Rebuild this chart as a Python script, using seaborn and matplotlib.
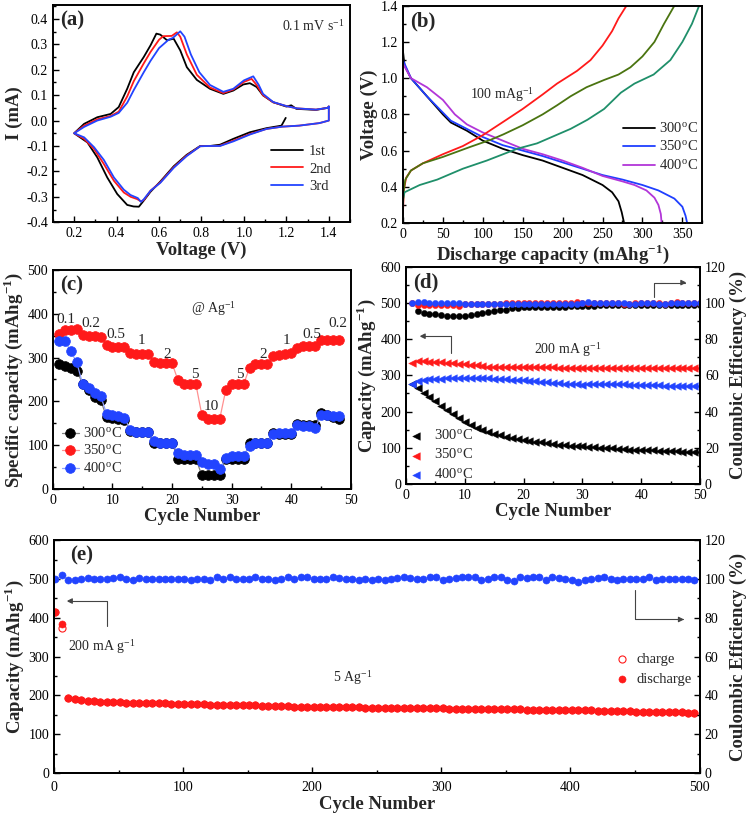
import numpy as np
import pandas as pd
import matplotlib
matplotlib.use("Agg")
import matplotlib.pyplot as plt
from matplotlib.ticker import MultipleLocator, FormatStrFormatter
import seaborn as sns

# ---------------- data ----------------
# (a) cyclic voltammetry (V, mA)
cv1_v = [1.197, 1.177, 1.106, 1.028, 0.95, 0.8875, 0.84, 0.794, 0.73, 0.669, 0.606, 0.56, 0.528, 0.505, 0.48, 0.45, 0.403, 0.356, 0.309, 0.2625, 0.2,
         0.247, 0.309, 0.372, 0.41, 0.45, 0.481, 0.528, 0.56, 0.5875, 0.606, 0.6375, 0.669, 0.7, 0.731, 0.778, 0.84, 0.903, 0.95, 0.997, 1.028, 1.06, 1.09, 1.1375, 1.2, 1.223, 1.247, 1.34, 1.395, 1.4]
cv1_i = [0.0105, -0.02, -0.03, -0.046, -0.072, -0.095, -0.1, -0.1, -0.135, -0.18, -0.24, -0.28, -0.315, -0.339, -0.338, -0.332, -0.289, -0.224, -0.145, -0.086, -0.05,
         -0.013, 0.013, 0.026, 0.053, 0.125, 0.19, 0.25, 0.296, 0.342, 0.338, 0.316, 0.322, 0.276, 0.21, 0.16, 0.125, 0.105, 0.118, 0.142, 0.147, 0.132, 0.099, 0.072, 0.055, 0.06, 0.046, 0.042, 0.05, 0.055]
cv2_v = [1.4, 1.4, 1.356, 1.26, 1.18, 1.106, 1.028, 0.95, 0.8875, 0.84, 0.794, 0.73, 0.669, 0.606, 0.56, 0.528, 0.515, 0.497, 0.466, 0.434, 0.3875, 0.34, 0.294, 0.247, 0.2,
         0.247, 0.309, 0.372, 0.41, 0.45, 0.481, 0.528, 0.56, 0.6, 0.62, 0.66, 0.684, 0.7, 0.731, 0.778, 0.84, 0.903, 0.95, 1.0, 1.036, 1.06, 1.09, 1.1375, 1.2, 1.25, 1.34, 1.395, 1.4]
cv2_i = [0.055, 0.0, -0.01, -0.02, -0.024, -0.033, -0.053, -0.079, -0.099, -0.1, -0.101, -0.138, -0.184, -0.243, -0.276, -0.313, -0.318, -0.309, -0.3, -0.283, -0.237, -0.171, -0.112, -0.072, -0.05,
         -0.02, 0.005, 0.018, 0.035, 0.095, 0.155, 0.225, 0.27, 0.318, 0.332, 0.333, 0.347, 0.33, 0.26, 0.18, 0.13, 0.108, 0.122, 0.152, 0.164, 0.14, 0.1, 0.072, 0.057, 0.048, 0.043, 0.05, 0.055]
cv3_v = [1.4, 1.4, 1.356, 1.26, 1.18, 1.106, 1.028, 0.95, 0.8875, 0.84, 0.794, 0.73, 0.669, 0.606, 0.56, 0.528, 0.515, 0.5, 0.466, 0.434, 0.3875, 0.34, 0.294, 0.247, 0.2,
         0.247, 0.309, 0.372, 0.41, 0.45, 0.481, 0.528, 0.56, 0.6, 0.645, 0.665, 0.7, 0.72, 0.75, 0.79, 0.84, 0.903, 0.95, 1.0, 1.044, 1.07, 1.09, 1.1375, 1.2, 1.25, 1.34, 1.395, 1.4]
cv3_i = [0.055, 0.0, -0.01, -0.02, -0.024, -0.033, -0.055, -0.082, -0.1, -0.1, -0.101, -0.14, -0.186, -0.245, -0.276, -0.31, -0.32, -0.305, -0.293, -0.272, -0.224, -0.155, -0.105, -0.066, -0.05,
         -0.025, 0.0, 0.015, 0.03, 0.07, 0.12, 0.19, 0.235, 0.285, 0.318, 0.325, 0.351, 0.33, 0.26, 0.19, 0.14, 0.113, 0.125, 0.158, 0.174, 0.14, 0.105, 0.073, 0.057, 0.048, 0.043, 0.05, 0.055]
cv_labels = ["1st", "2nd", "3rd"]

# (b) discharge / charge profiles (mAh/g, V)
d300_c = [0, 2, 10, 30, 50, 60, 80, 100, 125, 150, 175, 200, 225, 250, 262, 270, 274, 277]
d300_v = [1.15, 1.07, 1.0, 0.9, 0.8, 0.755, 0.71, 0.655, 0.61, 0.575, 0.545, 0.505, 0.465, 0.41, 0.37, 0.32, 0.26, 0.2]
d350_c = [0, 10, 30, 50, 60, 80, 100, 125, 150, 175, 200, 225, 250, 275, 300, 320, 340, 350, 354, 356]
d350_v = [1.1, 1.0, 0.9, 0.81, 0.765, 0.72, 0.675, 0.63, 0.6, 0.57, 0.535, 0.5, 0.465, 0.44, 0.41, 0.38, 0.335, 0.29, 0.24, 0.2]
d400_c = [0, 10, 30, 50, 65, 80, 100, 125, 150, 175, 200, 225, 250, 275, 290, 305, 315, 320, 323, 324]
d400_v = [1.08, 1.0, 0.95, 0.88, 0.8, 0.745, 0.7, 0.655, 0.61, 0.58, 0.545, 0.505, 0.46, 0.43, 0.41, 0.38, 0.34, 0.3, 0.25, 0.2]
c300_c = [0, 1, 4, 10, 25, 50, 75, 100, 126, 150, 175, 193, 218, 235, 250, 262, 270, 280]
c300_v = [0.25, 0.38, 0.45, 0.49, 0.53, 0.58, 0.625, 0.685, 0.76, 0.83, 0.91, 0.97, 1.04, 1.1, 1.18, 1.26, 1.33, 1.4]
c350_c = [0, 1, 3, 10, 25, 50, 84, 110, 126, 150, 175, 193, 210, 230, 252, 270, 285, 300, 315, 327, 340]
c350_v = [0.3, 0.38, 0.44, 0.49, 0.53, 0.565, 0.62, 0.66, 0.69, 0.74, 0.8, 0.85, 0.9, 0.95, 0.99, 1.02, 1.06, 1.12, 1.2, 1.3, 1.4]
c400_c = [0, 2, 21, 43, 75, 105, 143, 168, 189, 210, 231, 252, 273, 290, 314, 335, 350, 362, 371]
c400_v = [0.33, 0.37, 0.41, 0.44, 0.5, 0.545, 0.61, 0.64, 0.68, 0.72, 0.77, 0.83, 0.92, 0.97, 1.02, 1.1, 1.2, 1.3, 1.4]
temp_labels = ["300$^{\\mathregular{o}}$C", "350$^{\\mathregular{o}}$C", "400$^{\\mathregular{o}}$C"]

# (c) rate performance
rate_cycles = list(range(1, 49))
rate_300 = [286, 281, 276, 270, 240, 225, 211, 204, 164, 162, 160, 157, 133, 129, 129, 129, 105, 105, 105, 105,
            69, 69, 69, 69, 31, 31, 31, 31, 68, 69, 69, 69, 106, 106, 106, 106, 128, 126, 126, 126,
            148, 147, 147, 147, 173, 169, 164, 160]
rate_350 = [355, 364, 364, 365, 352, 350, 350, 347, 328, 325, 325, 325, 310, 308, 308, 308, 290, 287, 287, 287,
            248, 239, 239, 239, 169, 160, 160, 160, 225, 239, 239, 239, 276, 286, 286, 286, 304, 307, 308, 310,
            323, 327, 327, 327, 340, 340, 340, 340]
rate_400 = [338, 338, 314, 289, 239, 230, 220, 213, 172, 168, 166, 163, 135, 130, 130, 130, 110, 106, 106, 106,
            82, 77, 77, 77, 62, 57, 57, 46, 70, 76, 76, 76, 97, 106, 106, 106, 126, 128, 128, 128,
            147, 143, 143, 139, 168, 169, 167, 166]
rate_text = ["0.1", "0.2", "0.5", "1", "2", "5", "10", "5", "2", "1", "0.5", "0.2"]
rate_text_x = [2.2, 6.3, 10.6, 14.85, 19.1, 23.8, 26.6, 31.3, 35.3, 39.2, 43.4, 47.9]
rate_text_y = [387, 378, 352, 338, 308, 261, 188, 261, 306, 338, 352, 378]

# (d) cycling at 200 mA/g
d_cycles = list(range(1, 51))
cap_300 = [275, 266, 252, 241, 228, 215, 204, 193, 182, 172, 163, 155, 149, 143, 139, 135, 131, 127, 124, 121,
           119, 117, 115, 113, 111, 109, 108, 106, 105, 104, 102, 101, 100, 99, 98, 97, 96, 95, 95, 94,
           93, 93, 92, 92, 91, 90, 89, 89, 88, 88]
cap_350 = [335, 340, 339, 338, 337, 336, 335, 334, 332, 330, 329, 328, 326, 324, 323, 322, 322, 322, 323, 323,
           323, 323, 322, 322, 322, 321, 321, 321, 321, 321, 321, 321, 321, 321, 320, 320, 319, 319, 319, 319,
           320, 320, 320, 320, 320, 320, 320, 320, 320, 320]
cap_400 = [276, 283, 287, 289, 290, 291, 292, 293, 293, 294, 294, 294, 293, 292, 291, 290, 289, 288, 287, 286,
           284, 283, 282, 281, 279, 278, 277, 276, 275, 274, 275, 275, 276, 276, 276, 276, 275, 274, 274, 273,
           273, 272, 272, 271, 271, 271, 270, 270, 270, 270]
ce_300_cycles = list(range(2, 51))
ce_300 = [95.5, 94.3, 94.0, 94.0, 93.3, 93.0, 93.0, 93.0, 93.0, 93.2, 93.6, 94.2, 95.0, 95.5, 96.0, 96.3, 97.0, 97.2, 97.5, 97.6,
          97.8, 98.0, 98.0, 97.8, 97.6, 98.0, 98.2, 98.2, 98.4, 98.5, 98.5, 98.6, 98.6, 98.6, 98.6, 98.7, 98.7, 98.7, 98.8, 98.6,
          98.6, 98.7, 98.8, 98.8, 98.8, 98.8, 98.9, 98.9, 98.9]
ce_350 = [100.0, 98.6, 98.8, 98.8, 98.8, 98.8, 98.8, 98.8, 98.4, 99.6, 99.6, 99.6, 99.6, 99.4, 99.5, 99.6, 99.8, 100.2, 99.8, 99.8,
          99.8, 99.8, 100.0, 100.0, 99.8, 99.8, 99.8, 100.0, 100.4, 100.2, 100.2, 100.2, 100.0, 100.0, 100.0, 99.8, 99.6, 99.6, 99.8, 99.8,
          99.8, 99.8, 99.8, 99.6, 99.8, 100.6, 100.2, 100.0, 99.8, 99.8]
ce_400 = [100.0, 100.6, 100.4, 100.2, 100.0, 100.0, 99.8, 99.8, 99.8, 99.6, 99.6, 99.4, 99.2, 99.4, 99.4, 99.6, 99.6, 99.4, 99.4, 99.4,
          99.6, 99.6, 99.4, 99.4, 99.4, 99.4, 99.6, 99.6, 99.6, 100.2, 100.4, 100.2, 100.2, 100.0, 100.0, 100.0, 99.8, 99.6, 99.6, 99.8,
          99.8, 99.8, 99.6, 99.6, 99.8, 100.2, 100.0, 100.0, 100.0, 100.0]

# (e) long cycling at 5 A/g
e_cycles = [1, 6] + list(range(11, 500, 5))
e_discharge = [416, 384,
               194, 190, 187, 186, 185, 184, 183, 182, 182, 181,
               181, 180, 180, 179, 179, 179, 178, 178, 178, 177,
               177, 177, 176, 176, 176, 175, 175, 174, 174, 174,
               173, 173, 172, 172, 172, 171, 171, 170, 170, 170,
               170, 169, 169, 169, 169, 169, 168, 168, 168, 168,
               168, 168, 167, 167, 167, 167, 167, 167, 167, 166,
               166, 166, 166, 165, 165, 165, 165, 164, 164, 164,
               164, 163, 163, 163, 163, 163, 162, 162, 162, 161,
               161, 161, 160, 160, 160, 160, 159, 159, 158, 158,
               158, 157, 157, 156, 156, 156, 155, 155]
e_charge = [416, 373,
            194, 190, 187, 186, 185, 184, 183, 182, 182, 181,
            181, 180, 180, 179, 179, 179, 178, 178, 178, 177,
            177, 177, 176, 176, 176, 175, 175, 174, 174, 174,
            173, 173, 172, 172, 172, 171, 171, 170, 170, 170,
            170, 169, 169, 169, 169, 169, 168, 168, 168, 168,
            168, 168, 167, 167, 167, 167, 167, 167, 167, 166,
            166, 166, 166, 165, 165, 165, 165, 164, 164, 164,
            164, 163, 163, 163, 163, 163, 162, 162, 162, 161,
            161, 161, 160, 160, 160, 160, 159, 159, 158, 158,
            158, 157, 157, 156, 156, 156, 155, 155]
e_ce_cycles = list(range(1, 500, 5))
e_ce = [100.0, 102.2, 99.3, 99.6, 100.0, 100.6, 100.0, 99.8, 100.0, 100.7,
        100.8, 100.0, 99.2, 100.6, 100.2, 100.0, 100.2, 100.0, 100.0, 100.0,
        100.0, 99.3, 100.0, 100.2, 99.4, 100.8, 100.0, 100.9, 100.2, 100.0,
        99.8, 100.8, 100.2, 100.0, 99.3, 100.0, 100.8, 100.2, 100.9, 100.9,
        100.0, 100.0, 100.2, 100.9, 100.6, 100.0, 100.0, 99.2, 100.2, 99.3,
        100.0, 99.4, 100.2, 100.6, 101.2, 100.6, 100.2, 99.8, 100.8, 101.0,
        99.2, 100.0, 100.4, 100.8, 101.0, 100.8, 99.3, 100.2, 100.8, 100.9,
        99.2, 99.0, 100.8, 100.4, 100.9, 101.0, 99.6, 101.0, 100.4, 100.2,
        99.6, 98.3, 99.3, 100.0, 100.4, 101.0, 100.2, 99.2, 100.0, 100.2,
        100.2, 100.2, 101.2, 99.2, 100.0, 100.0, 100.0, 100.0, 100.0, 99.4]

# ---------------- style ----------------
sns.set_style("ticks")
plt.rcParams["font.family"] = ["Liberation Serif", "DejaVu Serif"]
plt.rcParams["mathtext.fontset"] = "stix"
plt.rcParams["axes.unicode_minus"] = False
plt.rcParams["axes.linewidth"] = 1.4
plt.rcParams["axes.edgecolor"] = "black"

TICK = 10
LAB = 13.5
LEG = 10.5

RED = "#ff1a1a"
BLUE = "#2244ff"
BLACK = "#000000"

fig = plt.figure(figsize=(7.56, 8.17), dpi=100)


def style(ax, xmaj, xmin, ymaj, ymin, right=False):
    ax.xaxis.set_major_locator(MultipleLocator(xmaj))
    ax.xaxis.set_minor_locator(MultipleLocator(xmin))
    ax.yaxis.set_major_locator(MultipleLocator(ymaj))
    ax.yaxis.set_minor_locator(MultipleLocator(ymin))
    ax.tick_params(which="both", direction="in", top=False, right=right,
                   labelsize=TICK, colors="black", width=1.0)
    ax.tick_params(which="major", length=4)
    ax.tick_params(which="minor", length=2)
    for s in ax.spines.values():
        s.set_visible(True)
        s.set_linewidth(1.4)


def panel_label(ax, txt):
    ax.text(0.025, 0.975, txt, transform=ax.transAxes, va="top", ha="left",
            fontsize=15, fontweight="bold")


# ---------------- (a) ----------------
axa = fig.add_axes([0.070, 0.728, 0.393, 0.266])
for v, i, col, lab in zip([cv1_v, cv2_v, cv3_v], [cv1_i, cv2_i, cv3_i],
                          [BLACK, RED, BLUE], cv_labels):
    sns.lineplot(x=v, y=i, sort=False, estimator=None, color=col, lw=1.3,
                 label=lab, ax=axa)
axa.set_xlim(0.1, 1.5)
axa.set_ylim(-0.4, 0.455)
style(axa, 0.2, 0.1, 0.1, 0.05)
axa.xaxis.set_major_formatter(FormatStrFormatter("%.1f"))
axa.yaxis.set_major_formatter(FormatStrFormatter("%.1f"))
axa.set_xlabel("Voltage (V)", fontsize=LAB, fontweight="bold", labelpad=1)
axa.set_ylabel("I (mA)", fontsize=LAB, fontweight="bold", labelpad=2)
axa.text(1.18, 0.372, "0.1 mV s$^{\\mathregular{-1}}$", fontsize=LEG - 0.5, va="center")
axa.legend(loc="center left", bbox_to_anchor=(0.69, 0.245), frameon=False,
           fontsize=LEG, handlelength=2.2, labelspacing=0.3, handletextpad=0.4)
panel_label(axa, "(a)")

# ---------------- (b) ----------------
axb = fig.add_axes([0.533, 0.727, 0.396, 0.266])
for c, v, col, lab in zip([d300_c, d350_c, d400_c], [d300_v, d350_v, d400_v],
                          [BLACK, "#1f3fff", "#b236d8"], temp_labels):
    sns.lineplot(x=c, y=v, sort=False, estimator=None, color=col, lw=1.3,
                 label=lab, ax=axb)
for c, v, col in zip([c300_c, c350_c, c400_c], [c300_v, c350_v, c400_v],
                     ["#ff1a1a", "#4a7410", "#1f8f6a"]):
    sns.lineplot(x=c, y=v, sort=False, estimator=None, color=col, lw=1.3, ax=axb)
axb.set_xlim(0, 375)
axb.set_ylim(0.2, 1.4)
style(axb, 50, 25, 0.2, 0.1)
axb.yaxis.set_major_formatter(FormatStrFormatter("%.1f"))
axb.set_xlabel("Discharge capacity (mAhg$^{\\mathregular{-1}}$)", fontsize=LAB,
               fontweight="bold", labelpad=1)
axb.set_ylabel("Voltage (V)", fontsize=LAB, fontweight="bold", labelpad=2)
axb.text(84, 0.91, "100 mAg$^{\\mathregular{-1}}$", fontsize=LEG - 0.5, va="center")
axb.legend(loc="center left", bbox_to_anchor=(0.69, 0.35), frameon=False,
           fontsize=LEG, handlelength=2.2, labelspacing=0.25, handletextpad=0.3)
panel_label(axb, "(b)")

# ---------------- (c) ----------------
axc = fig.add_axes([0.070, 0.4015, 0.394, 0.268])
for vals, col, light, lab in zip([rate_300, rate_350, rate_400],
                                 [BLACK, RED, BLUE],
                                 ["#808080", "#ff9090", "#8fa0ff"], temp_labels):
    sns.lineplot(x=rate_cycles, y=vals, color=light, lw=0.9, marker="o",
                 markersize=7, markerfacecolor=col, markeredgecolor=col,
                 markeredgewidth=0.5, label=lab, ax=axc)
for t, x, y in zip(rate_text, rate_text_x, rate_text_y):
    axc.text(x, y, t, fontsize=LEG + 0.5, ha="center", va="center")
axc.text(26.9, 413, "@ Ag$^{\\mathregular{-1}}$", fontsize=LEG - 0.5, ha="center", va="center")
axc.set_xlim(0, 50)
axc.set_ylim(0, 500)
style(axc, 10, 5, 100, 50)
axc.set_xlabel("Cycle Number", fontsize=LAB, fontweight="bold", labelpad=1)
axc.set_ylabel("Specific capacity (mAhg$^{\\mathregular{-1}}$)", fontsize=LAB,
               fontweight="bold", labelpad=2)
axc.legend(loc="lower left", bbox_to_anchor=(-0.015, 0.0), frameon=False,
           fontsize=LEG, handlelength=1.2, labelspacing=0.2, handletextpad=0.3)
panel_label(axc, "(c)")

# ---------------- (d) ----------------
axd = fig.add_axes([0.537, 0.4076, 0.389, 0.266])
axd2 = axd.twinx()
for vals, col, lab in zip([cap_300, cap_350, cap_400], [BLACK, RED, BLUE], temp_labels):
    sns.scatterplot(x=d_cycles, y=vals, marker="<", s=30, color=col,
                    edgecolor=col, linewidth=0.3, label=lab, ax=axd)
sns.scatterplot(x=ce_300_cycles, y=ce_300, marker="o", s=20, color=BLACK,
                edgecolor=BLACK, linewidth=0.3, ax=axd2)
sns.scatterplot(x=d_cycles, y=ce_350, marker="o", s=20, color=RED,
                edgecolor=RED, linewidth=0.3, ax=axd2)
sns.scatterplot(x=d_cycles, y=ce_400, marker="o", s=20, color=BLUE,
                edgecolor=BLUE, linewidth=0.3, ax=axd2)
axd.set_xlim(0, 50)
axd.set_ylim(0, 600)
axd2.set_ylim(0, 120)
style(axd, 10, 5, 100, 50)
style(axd2, 10, 5, 20, 10, right=True)
axd.tick_params(right=False, which="both")
axd.set_xlabel("Cycle Number", fontsize=LAB, fontweight="bold", labelpad=1)
axd.set_ylabel("Capacity (mAhg$^{\\mathregular{-1}}$)", fontsize=LAB,
               fontweight="bold", labelpad=2)
axd2.set_ylabel("Coulombic Efficiency (%)", fontsize=LAB, fontweight="bold", labelpad=3)
axd.text(21.7, 372, "200 mA g$^{\\mathregular{-1}}$", fontsize=LEG - 0.5, va="center")
arrow_kw = dict(arrowstyle="-|>", color="#444444", lw=0.8, mutation_scale=8,
                shrinkA=0, shrinkB=0)
axd.annotate("", xy=(2.3, 408), xytext=(7.7, 362),
             arrowprops=dict(connectionstyle="angle,angleA=90,angleB=0,rad=0", **arrow_kw))
axd.annotate("", xy=(47.7, 556), xytext=(42.1, 515),
             arrowprops=dict(connectionstyle="angle,angleA=90,angleB=0,rad=0", **arrow_kw))
axd.legend(loc="lower left", bbox_to_anchor=(-0.035, -0.05), frameon=False,
           fontsize=LEG, handlelength=1.0, labelspacing=0.32, handletextpad=0.75)
axd2.get_legend() and axd2.get_legend().remove()
panel_label(axd, "(d)")

# ---------------- (e) ----------------
axe = fig.add_axes([0.0714, 0.0539, 0.854, 0.285])
axe2 = axe.twinx()
sns.scatterplot(x=e_cycles, y=e_charge, marker="o", s=26, facecolor="white",
                edgecolor=RED, linewidth=0.8, label="charge", ax=axe)
sns.scatterplot(x=e_cycles, y=e_discharge, marker="o", s=26, color=RED,
                edgecolor=RED, linewidth=0.4, label="discharge", ax=axe)
sns.scatterplot(x=e_ce_cycles, y=e_ce, marker="o", s=26, color=BLUE,
                edgecolor=BLUE, linewidth=0.4, ax=axe2)
axe.set_xlim(0, 500)
axe.set_ylim(0, 600)
axe2.set_ylim(0, 120)
style(axe, 100, 50, 100, 50)
style(axe2, 100, 50, 20, 10, right=True)
axe.tick_params(right=False, which="both")
axe.tick_params(axis="x", which="major", pad=6)
axe.set_xlabel("Cycle Number", fontsize=LAB, fontweight="bold", labelpad=1)
axe.set_ylabel("Capacity (mAhg$^{\\mathregular{-1}}$)", fontsize=LAB,
               fontweight="bold", labelpad=2)
axe2.set_ylabel("Coulombic Efficiency (%)", fontsize=LAB, fontweight="bold", labelpad=3)
axe.text(11, 325, "200 mA g$^{\\mathregular{-1}}$", fontsize=LEG - 0.5, va="center")
axe.text(216, 245, "5 Ag$^{\\mathregular{-1}}$", fontsize=LEG - 0.5, va="center")
axe.annotate("", xy=(9.8, 443), xytext=(41, 379),
             arrowprops=dict(connectionstyle="angle,angleA=90,angleB=0,rad=0", **arrow_kw))
axe2.annotate("", xy=(488, 79.1), xytext=(450, 94.2),
              arrowprops=dict(connectionstyle="angle,angleA=90,angleB=0,rad=0", **arrow_kw))
axe.legend(loc="center left", bbox_to_anchor=(0.85, 0.445), frameon=False,
           fontsize=LEG, handlelength=0.8, labelspacing=0.45, handletextpad=0.6)
axe2.get_legend() and axe2.get_legend().remove()
panel_label(axe, "(e)")

fig.savefig("out.png", dpi=100)
